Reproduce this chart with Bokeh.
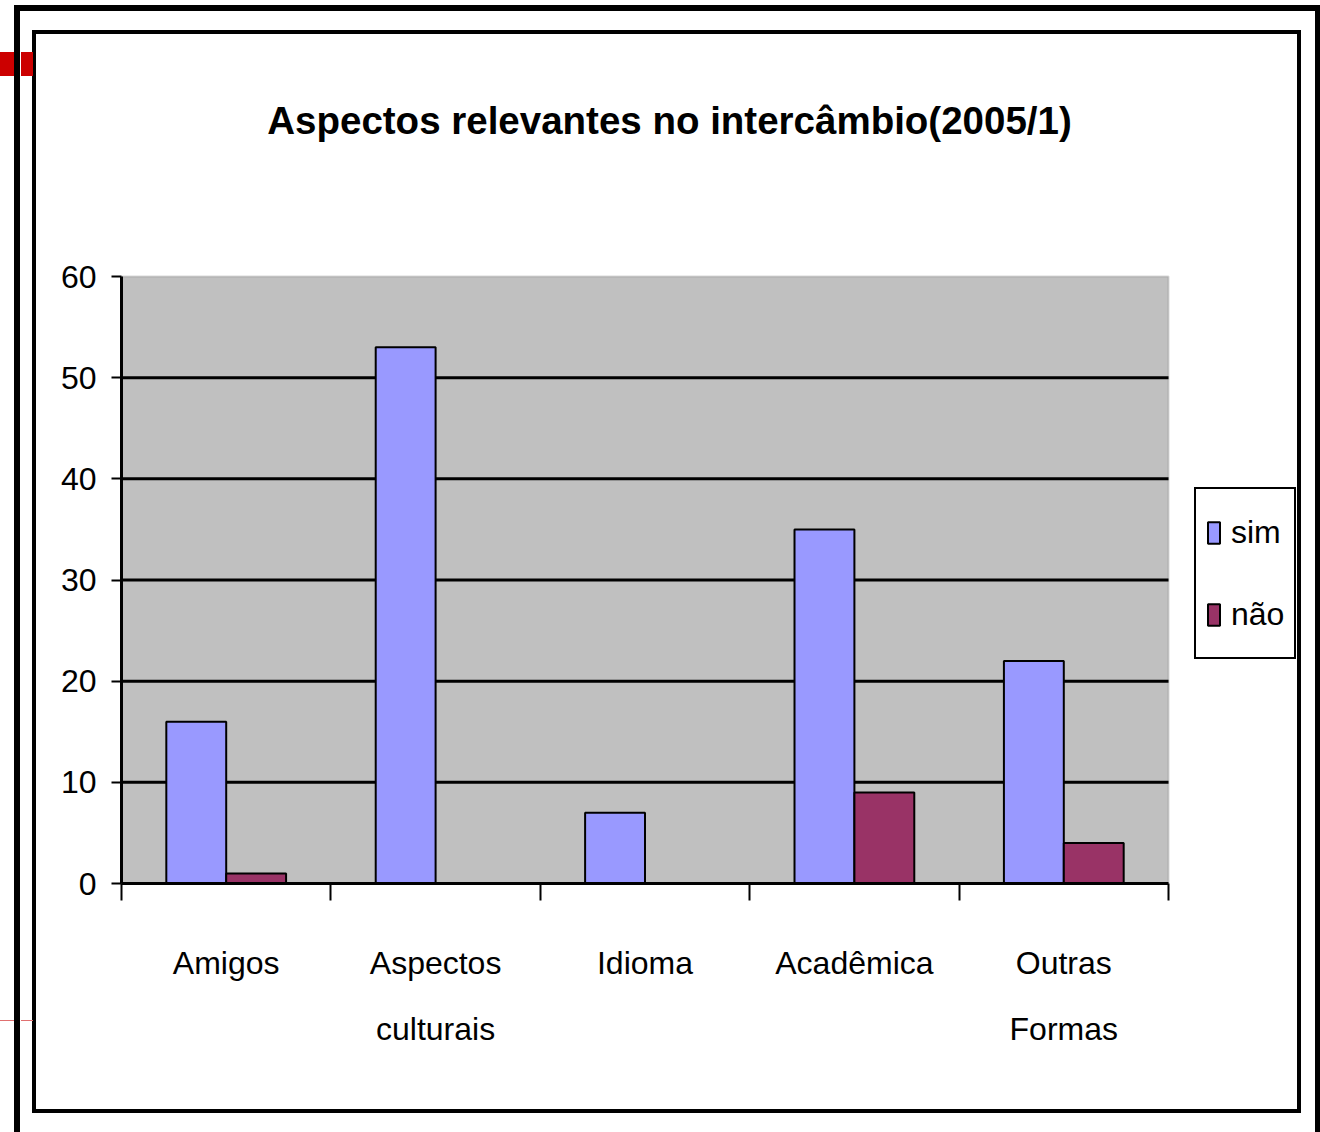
from bokeh.plotting import figure
from bokeh.models import (Range1d, LinearAxis, FixedTicker, Label, BoxAnnotation,
                          Legend, LegendItem, ColumnDataSource)
from bokeh.embed import file_html
from bokeh.resources import INLINE

# ---- data ----
categories = ["Amigos", "Aspectos\nculturais", "Idioma", "Acadêmica", "Outras\nFormas"]
sim = [16, 53, 7, 35, 22]
nao = [1, 0, 0, 9, 4]
y_ticks = [0, 10, 20, 30, 40, 50, 60]
series_names = ["sim", "não"]
title_text = "Aspectos relevantes no intercâmbio(2005/1)"

FONT = "Liberation Sans"
n = len(categories)
centers = [i + 0.5 for i in range(n)]
BW = 0.286

# ---- layout (pixels, canvas coordinates) ----
CW, CH = 1261, 1075          # canvas size
PL, PR = 85, 1132            # plot-area left / right
PT, PB = 242, 849            # plot-area top / bottom
FR = CW                      # frame right edge (frame extended to hold legend)
FT = 0                       # frame top edge (frame extended to hold title)
px_x = (PR - PL) / n                           # pixels per category
px_y = (PB - PT) / (y_ticks[-1] - y_ticks[0])  # pixels per unit
x_end = (FR - PL) / px_x
y_end = y_ticks[0] + (PB - FT) / px_y

frame_styles = {
    "outline": "4px solid black",
    "box-shadow": ("1px -6px 0 17px white, 1px 20px 0 17px white, "
                   "1px -6px 0 23px black, 1px 20px 0 23px black"),
}
slide_marks_css = """
:host::before {
  content: ""; position: absolute; left: -36px; top: 18px; width: 33px; height: 24px;
  background: linear-gradient(to right, #CC0000 0 14px, transparent 14px 21px, #CC0000 21px 33px);
  pointer-events: none;
}
:host::after {
  content: ""; position: absolute; left: -36px; top: 986px; width: 33px; height: 1px;
  background: linear-gradient(to right, #E07070 0 14px, transparent 14px 21px, #E07070 21px 33px);
  pointer-events: none;
}
"""

p = figure(width=CW, height=CH,
           x_range=Range1d(0, x_end),
           y_range=Range1d(y_ticks[0], y_end),
           output_backend="svg", toolbar_location=None,
           x_axis_location=None,
           min_border_left=PL, min_border_right=CW - FR,
           min_border_top=FT, min_border_bottom=CH - PB,
           margin=(34, 0, 0, 36),
           styles=frame_styles,
           stylesheets=[slide_marks_css])

p.background_fill_color = "white"
p.border_fill_color = "white"
p.outline_line_color = None

# plot area (grey) with its thin grey border
p.add_layout(BoxAnnotation(left=0, right=n, bottom=y_ticks[0], top=y_ticks[-1],
                           fill_color="#C0C0C0", fill_alpha=1,
                           line_color="#808080", line_width=2, level="image"))

# horizontal grid lines limited to the plot area
grid_y = y_ticks[1:-1]
p.segment(x0=[0] * len(grid_y), x1=[n] * len(grid_y), y0=grid_y, y1=grid_y,
          line_color="black", line_width=3, level="underlay")
p.ygrid.visible = False
p.xgrid.visible = False

# title
p.add_layout(Label(x=(633 - PL) / px_x, y=y_ticks[0] + (PB - 86) / px_y,
                   text=title_text, text_font=FONT, text_font_size="38.5px",
                   text_font_style="bold", text_color="black",
                   text_align="center", text_baseline="alphabetic"))

# y axis
ya = p.yaxis[0]
ya.ticker = FixedTicker(ticks=y_ticks)
ya.bounds = (y_ticks[0], y_ticks[-1])
ya.axis_line_width = 3
ya.axis_line_color = "black"
ya.major_tick_out = 10
ya.major_tick_in = 0
ya.major_tick_line_width = 2
ya.minor_tick_line_color = None
ya.major_label_text_font = FONT
ya.major_label_text_font_size = "32px"
ya.major_label_text_color = "black"
ya.major_label_standoff = 15

# x axis: boundary ticks + category labels
bounds = list(range(n + 1))
bound_axis = LinearAxis(ticker=FixedTicker(ticks=bounds), bounds=(0, n),
                        major_label_overrides={b: "" for b in bounds},
                        major_label_text_font_size="0px", major_label_standoff=0,
                        axis_line_width=3, axis_line_color="black",
                        major_tick_out=17, major_tick_in=0, major_tick_line_width=2,
                        minor_tick_line_color=None)
p.add_layout(bound_axis, "below")

cat_axis = LinearAxis(ticker=FixedTicker(ticks=centers), bounds=(0, n),
                      major_label_overrides={c: lab for c, lab in zip(centers, categories)},
                      axis_line_color=None, major_tick_line_color=None,
                      minor_tick_line_color=None,
                      major_label_text_font=FONT,
                      major_label_text_font_size="32px",
                      major_label_text_color="black",
                      major_label_text_line_height=1.86,
                      major_label_standoff=38)
p.add_layout(cat_axis, "below")

src = ColumnDataSource(dict(x=centers, sim=sim, nao=nao,
                            xs=[c - BW / 2 for c in centers],
                            xn=[c + BW / 2 for c in centers]))
r1 = p.vbar(x="xs", top="sim", width=BW, source=src,
            fill_color="#9999FF", line_color="black", line_width=2)
r2 = p.vbar(x="xn", top="nao", width=BW, source=src,
            fill_color="#993366", line_color="black", line_width=2)

legend = Legend(items=[LegendItem(label=series_names[0], renderers=[r1]),
                       LegendItem(label=series_names[1], renderers=[r2])],
                location=(1158 - PL, PB - 625),
                label_text_font=FONT, label_text_font_size="32px",
                label_text_color="black",
                glyph_width=15, glyph_height=27, label_height=66,
                label_standoff=10, spacing=16, padding=10, margin=0,
                border_line_color="black", border_line_width=2, border_line_alpha=1,
                background_fill_color="white", background_fill_alpha=1)
p.add_layout(legend)

open("out.html", "w").write(file_html(p, INLINE))
